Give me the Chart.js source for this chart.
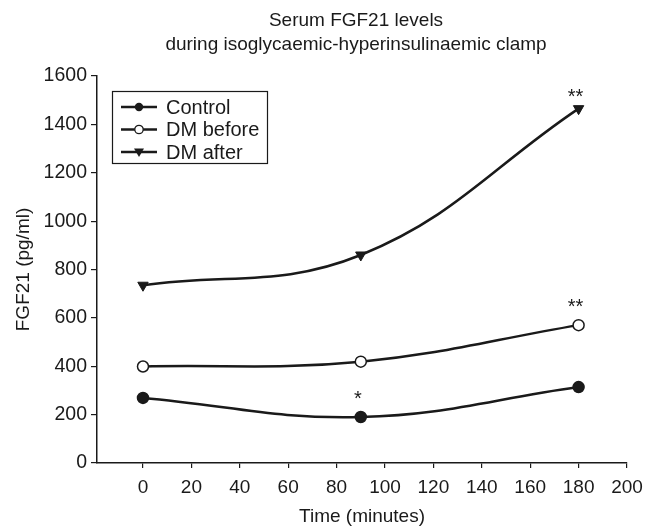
<!DOCTYPE html>
<html>
<head>
<meta charset="utf-8">
<script src="https://cdn.jsdelivr.net/npm/chart.js@4"></script>
<style>
  html, body { margin: 0; padding: 0; background: #fff; }
  #wrap { width: 668px; height: 531px; }
</style>
</head>
<body>
<div id="wrap"><canvas id="myChart" width="668" height="531"></canvas></div>
<script>
// Data
const timePoints = [0, 90, 180];
const controlValues = [269, 190, 314];
const dmBeforeValues = [399, 419, 570];
const dmAfterValues = [735, 860, 1465];

const seriesNames = ['Control', 'DM before', 'DM after'];
const xTicks = [0, 20, 40, 60, 80, 100, 120, 140, 160, 180, 200];
const yTicks = [0, 200, 400, 600, 800, 1000, 1200, 1400, 1600];
const titleLines = ['Serum FGF21 levels', 'during isoglycaemic-hyperinsulinaemic clamp'];

// significance marks: which series, which point, what text
const sigSeries = [0, 1, 2];
const sigIndex = [1, 2, 2];
const sigMarks = ['*', '**', '**'];

const FONT = '"Liberation Sans", Arial, Helvetica, sans-serif';
const INK = '#1a1a1a';

function toPoints(values) {
    return values.map((v, i) => ({ x: timePoints[i], y: v }));
}

// Draw one marker for the legend sample
function drawMarker(ctx, style, x, y) {
    ctx.save();
    ctx.lineWidth = 1.3;
    ctx.strokeStyle = INK;
    if (style === 'filled') {
        ctx.fillStyle = INK;
        ctx.beginPath();
        ctx.arc(x, y, 4.2, 0, Math.PI * 2);
        ctx.fill();
    } else if (style === 'open') {
        ctx.fillStyle = '#fff';
        ctx.beginPath();
        ctx.arc(x, y, 4.2, 0, Math.PI * 2);
        ctx.fill();
        ctx.stroke();
    } else {
        ctx.fillStyle = INK;
        ctx.beginPath();
        ctx.moveTo(x - 5, y - 3.5);
        ctx.lineTo(x + 5, y - 3.5);
        ctx.lineTo(x, y + 5);
        ctx.closePath();
        ctx.fill();
    }
    ctx.restore();
}

const markerStyles = ['filled', 'open', 'triangle'];

const extrasPlugin = {
    id: 'extras',
    afterDraw(chart) {
        const ctx = chart.ctx;
        const xs = chart.scales.x;
        const ys = chart.scales.y;

        // title
        ctx.save();
        ctx.fillStyle = INK;
        ctx.font = '19px ' + FONT;
        ctx.textAlign = 'center';
        ctx.textBaseline = 'middle';
        titleLines.forEach((line, i) => {
            ctx.fillText(line, 356, 21 + i * 24);
        });
        ctx.restore();

        // asterisks
        ctx.save();
        ctx.fillStyle = INK;
        ctx.font = '20px ' + FONT;
        ctx.textAlign = 'center';
        ctx.textBaseline = 'middle';
        sigMarks.forEach((mark, k) => {
            const values = chart.data.datasets[sigSeries[k]].data;
            const p = values[sigIndex[k]];
            const px = xs.getPixelForValue(p.x);
            const py = ys.getPixelForValue(p.y);
            const off = sigSeries[k] === 2 ? 11 : 18;
            ctx.fillText(mark, px - 3, py - off);
        });
        ctx.restore();

        // legend box
        ctx.save();
        ctx.strokeStyle = INK;
        ctx.lineWidth = 1.2;
        ctx.strokeRect(112.5, 91.5, 155, 72);
        ctx.font = '20px ' + FONT;
        ctx.textBaseline = 'middle';
        ctx.textAlign = 'left';
        seriesNames.forEach((name, i) => {
            const y = 107 + i * 22.5;
            ctx.beginPath();
            ctx.lineWidth = 2.5;
            ctx.moveTo(121, y);
            ctx.lineTo(157, y);
            ctx.stroke();
            drawMarker(ctx, markerStyles[i], 139, y);
            ctx.fillStyle = INK;
            ctx.fillText(name, 166, y + 1);
        });
        ctx.restore();
    }
};

const ctx = document.getElementById('myChart');

new Chart(ctx, {
    type: 'line',
    data: {
        datasets: [
            {
                label: seriesNames[0],
                data: toPoints(controlValues),
                borderColor: INK,
                backgroundColor: INK,
                pointStyle: 'circle',
                pointRadius: 5.5,
                pointBorderWidth: 1.5
            },
            {
                label: seriesNames[1],
                data: toPoints(dmBeforeValues),
                borderColor: INK,
                backgroundColor: '#fff',
                pointStyle: 'circle',
                pointRadius: 5.5,
                pointBorderWidth: 1.5
            },
            {
                label: seriesNames[2],
                data: toPoints(dmAfterValues),
                borderColor: INK,
                backgroundColor: INK,
                pointStyle: 'triangle',
                rotation: 180,
                pointRadius: 6,
                pointBorderWidth: 1
            }
        ]
    },
    options: {
        responsive: false,
        animation: false,
        events: [],
        layout: { padding: { top: 76, right: 41, left: 8, bottom: 0 } },
        elements: {
            line: { borderWidth: 2.5, tension: 0.4, fill: false }
        },
        plugins: {
            legend: { display: false },
            title: { display: false },
            tooltip: { enabled: false }
        },
        scales: {
            x: {
                type: 'linear',
                min: -19,
                max: 200,
                afterBuildTicks: (scale) => {
                    scale.ticks = xTicks.map(v => ({ value: v }));
                },
                afterFit: (scale) => { scale.height = 68; },
                grid: {
                    display: true,
                    drawOnChartArea: false,
                    drawTicks: true,
                    tickLength: 5,
                    color: INK,
                    lineWidth: 1.2
                },
                border: { color: INK, width: 1.5 },
                ticks: {
                    color: INK,
                    font: { family: FONT, size: 19 },
                    padding: 8,
                    maxRotation: 0,
                    autoSkip: false,
                    callback: (v) => String(v)
                },
                title: {
                    display: true,
                    text: 'Time (minutes)',
                    color: INK,
                    font: { family: FONT, size: 19 },
                    padding: { top: 4, bottom: 3 }
                }
            },
            y: {
                min: 0,
                max: 1600,
                afterBuildTicks: (scale) => {
                    scale.ticks = yTicks.map(v => ({ value: v }));
                },
                afterFit: (scale) => { scale.width = 89; },
                grid: {
                    display: true,
                    drawOnChartArea: false,
                    drawTicks: true,
                    tickLength: 6,
                    color: INK,
                    lineWidth: 1.2
                },
                border: { color: INK, width: 1.5 },
                ticks: {
                    color: INK,
                    font: { family: FONT, size: 19.5 },
                    padding: 4,
                    autoSkip: false,
                    callback: (v) => String(v)
                },
                title: {
                    display: true,
                    text: 'FGF21 (pg/ml)',
                    color: INK,
                    font: { family: FONT, size: 19 },
                    padding: { bottom: 2 }
                }
            }
        }
    },
    plugins: [extrasPlugin]
});
</script>
</body>
</html>
